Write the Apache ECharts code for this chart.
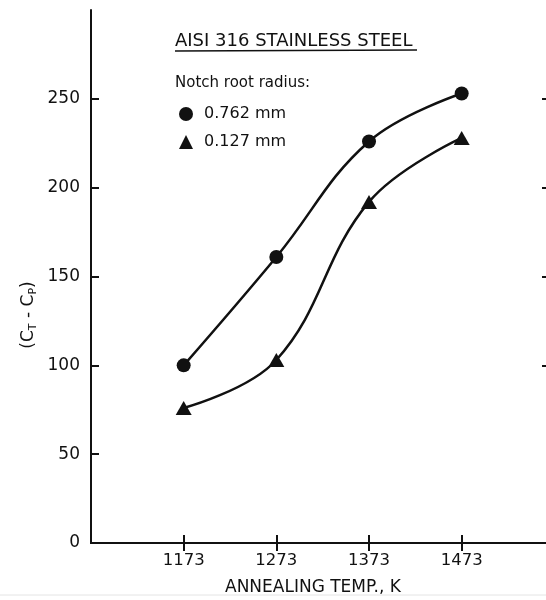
<!DOCTYPE html>
<html>
<head>
<meta charset="utf-8">
<script src="https://cdn.jsdelivr.net/npm/echarts@6/dist/echarts.min.js"></script>
<style>html,body{margin:0;padding:0;background:#fff}#c{width:546px;height:600px}</style>
</head>
<body>
<div id="c"></div>
<script>
var temps = [1173, 1273, 1373, 1473];
var r0762 = [100, 161, 226, 253];
var r0127 = [76, 103, 192, 228];
var xTicks = [1173, 1273, 1373, 1473];
var yTicks = [0, 50, 100, 150, 200, 250];
var seriesNames = ['0.762 mm', '0.127 mm'];
var titleText = 'AISI 316 STAINLESS STEEL';
var legendTitle = 'Notch root radius:';
var xName = 'ANNEALING TEMP., K';

var FONT = 'DejaVu Sans';
var INK = '#111';
function pairs(xs, ys) { return xs.map(function (x, i) { return [x, ys[i]]; }); }
function plain(v) { return String(v); }

var chart = echarts.init(document.getElementById('c'), null, {renderer: 'canvas'});
var axisCommon = {
  type: 'value', min: 1073, max: 1564,
  axisLine: {lineStyle: {color: INK, width: 2}},
  splitLine: {show: false}
};
chart.setOption({
  backgroundColor: '#fff',
  animation: false,
  grid: {left: 91, right: 0, top: 10, bottom: 57, containLabel: false},
  xAxis: [
    Object.assign({}, axisCommon, {
      position: 'bottom',
      axisTick: {inside: true, length: 8, lineStyle: {color: INK, width: 2}, customValues: xTicks},
      axisLabel: {customValues: xTicks, formatter: plain, color: INK, fontFamily: FONT, fontSize: 16.5, margin: 9}
    }),
    Object.assign({}, axisCommon, {
      position: 'top',
      axisTick: {inside: true, length: 8, lineStyle: {color: INK, width: 2}, customValues: xTicks},
      axisLabel: {show: false}
    })
  ],
  yAxis: [
    {
      type: 'value', min: 0, max: 300, interval: 50, position: 'left',
      axisLine: {show: true, lineStyle: {color: INK, width: 2}},
      axisTick: {show: true, inside: true, length: 8, lineStyle: {color: INK, width: 2}, customValues: yTicks},
      axisLabel: {customValues: yTicks, formatter: plain, color: INK, fontFamily: FONT, fontSize: 17, margin: 11},
      splitLine: {show: false}
    },
    {
      type: 'value', min: 0, max: 300, interval: 50, position: 'right',
      axisLine: {show: false},
      axisTick: {show: true, inside: true, length: 4, lineStyle: {color: INK, width: 2}, customValues: [100, 150, 200, 250]},
      axisLabel: {show: false},
      splitLine: {show: false}
    }
  ],
  legend: {
    orient: 'vertical', left: 174, top: 101, itemWidth: 14, itemHeight: 14, itemGap: 12,
    textStyle: {color: INK, fontFamily: FONT, fontSize: 16, padding: [0, 0, 0, 6]},
    data: [{name: seriesNames[0], icon: 'circle'}, {name: seriesNames[1], icon: 'triangle'}]
  },
  series: [
    {
      name: seriesNames[0], type: 'line', smooth: 0.4,
      data: pairs(temps, r0762),
      symbol: 'circle', symbolSize: 14,
      itemStyle: {color: INK}, lineStyle: {color: INK, width: 2.5}
    },
    {
      name: seriesNames[1], type: 'line', smooth: 0.4,
      data: pairs(temps, r0127),
      symbol: 'triangle', symbolSize: [16, 14],
      itemStyle: {color: INK}, lineStyle: {color: INK, width: 2.5}
    }
  ],
  graphic: [
    {type: 'text', x: 175, y: 32, style: {text: titleText, fill: INK, font: '18px "DejaVu Sans"'}},
    {type: 'line', shape: {x1: 175, y1: 51, x2: 417, y2: 50}, style: {stroke: INK, lineWidth: 1.5}},
    {type: 'text', x: 175, y: 76, style: {text: legendTitle, fill: INK, font: '15px "DejaVu Sans"'}},
    {type: 'text', x: 313, y: 588, style: {text: xName, fill: INK, font: '17px "DejaVu Sans"', align: 'center', verticalAlign: 'middle'}},
    {type: 'text', x: 29, y: 315, rotation: Math.PI / 2,
      style: {
        text: '{a|(C}{s|T}{a| - C}{s|P}{a|)}',
        align: 'center', verticalAlign: 'middle', fill: INK,
        rich: {
          a: {fontFamily: FONT, fontSize: 17, lineHeight: 20, color: INK},
          s: {fontFamily: FONT, fontSize: 11, lineHeight: 11, verticalAlign: 'bottom', color: INK}
        }
      }
    },
    {type: 'line', shape: {x1: 0, y1: 595, x2: 546, y2: 595}, style: {stroke: '#e4e4e4', lineWidth: 1}}
  ]
});
</script>
</body>
</html>
